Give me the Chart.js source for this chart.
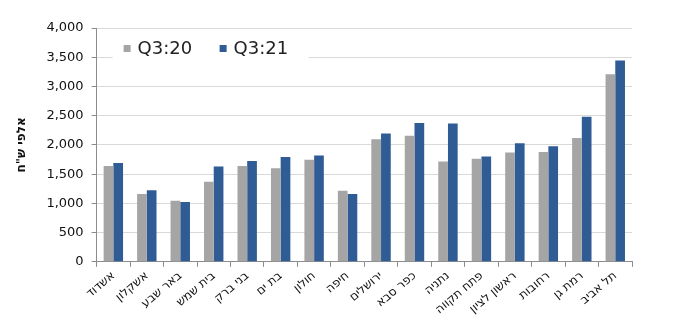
<!DOCTYPE html>
<html>
<head>
<meta charset="utf-8">
<script src="https://cdn.jsdelivr.net/npm/chart.js@4"></script>
<style>
  html, body { margin: 0; padding: 0; background: #fff; }
  #wrap { width: 676px; height: 326px; }
</style>
</head>
<body>
<div id="wrap"><canvas id="chart"></canvas></div>
<script>
const cities = ["אשדוד", "אשקלון", "באר שבע", "בית שמש", "בני ברק", "בת ים", "חולון", "חיפה",
  "ירושלים", "כפר סבא", "נתניה", "פתח תקווה", "ראשון לציון", "רחובות", "רמת גן", "תל אביב"];
const q320 = [1640, 1160, 1045, 1370, 1640, 1600, 1745, 1215, 2095, 2155, 1715, 1765, 1870, 1880, 2120, 3210];
const q321 = [1690, 1225, 1025, 1630, 1725, 1795, 1820, 1160, 2195, 2375, 2365, 1800, 2030, 1975, 2480, 3445];
const seriesNames = ["Q3:20", "Q3:21"];
const yTitle = 'אלפי ש"ח';

const grayColor = "#a5a5a5";
const blueColor = "#2f5c94";
const font = "'DejaVu Sans', 'Liberation Sans', sans-serif";

// legend sits inside the plot, on a white box over the gridlines
const innerLegend = {
  id: "innerLegend",
  beforeDatasetsDraw(chart) {
    const ctx = chart.ctx;
    const area = chart.chartArea;
    const x0 = area.left + 16;
    const y = area.top + 20;
    ctx.save();
    ctx.fillStyle = "#fff";
    ctx.fillRect(x0, y - 13, 196, 26);
    ctx.font = "18px " + font;
    ctx.textBaseline = "middle";
    ctx.textAlign = "left";
    let x = x0 + 11;
    chart.data.datasets.forEach((ds) => {
      ctx.fillStyle = ds.backgroundColor;
      ctx.fillRect(x, y - 3, 7, 7);
      ctx.fillStyle = "#222";
      ctx.fillText(ds.label, x + 14, y + 1);
      x += 96;
    });
    ctx.restore();
  },
};

new Chart(document.getElementById("chart"), {
  type: "bar",
  data: {
    labels: cities,
    datasets: [
      { label: seriesNames[0], data: q320, backgroundColor: grayColor },
      { label: seriesNames[1], data: q321, backgroundColor: blueColor },
    ],
  },
  options: {
    responsive: true,
    maintainAspectRatio: false,
    animation: false,
    layout: { padding: { left: 15, right: 44, top: 28, bottom: 7 } },
    datasets: { bar: { categoryPercentage: 0.58, barPercentage: 1.0 } },
    plugins: {
      legend: { display: false },
      tooltip: { enabled: false },
    },
    scales: {
      x: {
        grid: {
          offset: true,
          drawOnChartArea: false,
          drawTicks: true,
          tickLength: 5,
          tickColor: "#8c8c8c",
        },
        border: { color: "#8c8c8c" },
        ticks: {
          color: "#111",
          font: { family: font, size: 12 },
          minRotation: 40,
          maxRotation: 40,
          autoSkip: false,
          padding: 2,
        },
      },
      y: {
        min: 0,
        max: 4000,
        ticks: {
          stepSize: 500,
          color: "#111",
          font: { family: font, size: 13 },
          padding: 8,
          callback: (v) => v.toLocaleString("en-US"),
        },
        grid: { color: "#d9d9d9", tickLength: 5, tickColor: "#8c8c8c" },
        border: { color: "#8c8c8c" },
        title: {
          display: true,
          text: yTitle,
          color: "#111",
          font: { family: font, size: 12, weight: "bold" },
          padding: { top: 0, bottom: 9 },
        },
      },
    },
  },
  plugins: [innerLegend],
});
</script>
</body>
</html>
